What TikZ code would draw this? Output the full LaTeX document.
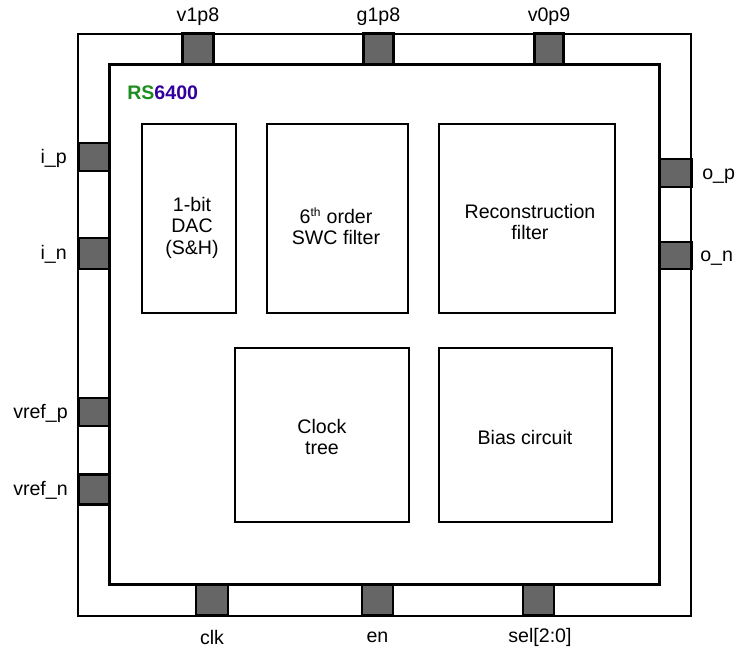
\documentclass[tikz,border=0pt]{standalone}
\usepackage{fontspec}
\setmainfont{Liberation Sans}
\begin{document}
\begin{tikzpicture}[x=0.75pt,y=-0.75pt,
  every node/.style={font=\fontsize{14.7pt}{16.1pt}\selectfont, inner sep=0pt},
  ln/.style={line width=2.2pt, line join=miter},
  blk/.style 2 args={draw, ln, fill=white, minimum width={#1*0.75pt}, minimum height={#2*0.75pt}, align=center},
  pad/.style 2 args={draw, ln, fill=padgray, minimum width={#1*0.75pt}, minimum height={#2*0.75pt}},
  lbl/.style={align=center}]
\definecolor{padgray}{HTML}{666666}
\definecolor{rsgreen}{HTML}{1E8C1E}
\definecolor{rsblue}{HTML}{3300A0}
\useasboundingbox (0,0) rectangle (744,648);
% die ring
\node[blk={613}{582}] (outer) at (384.5,325) {};
\node[blk={550}{520}] (inner) at (384.5,324.5) {};
% title
\node[anchor=west, font=\fontsize{14.7pt}{16.1pt}\selectfont\bfseries] (title) at (127,93) {\textcolor{rsgreen}{RS}\textcolor{rsblue}{6400}};
% blocks
\node[blk={94}{189}] (dac) at (189,218.5) {};
\node[blk={141}{189}] (swc) at (337.5,218.5) {};
\node[blk={176}{189}] (rec) at (527,218.5) {};
\node[blk={174}{174}] (clk) at (322,435) {};
\node[blk={173}{174}] (bias) at (525.5,435) {};
\node[lbl] (dact) at (192,227.5) {1-bit\\DAC\\(S\&H)};
\node[lbl] (swct) at (336,226.5) {6\textsuperscript{\fontsize{9pt}{9pt}\selectfont th} order\\SWC filter};
\node[lbl] (rect) at (530,222) {Reconstruction\\filter};
\node[lbl] (clkt) at (322,437) {Clock\\tree};
\node[lbl] (biast) at (525,437.5) {Bias circuit};
% top pads
\node[pad={31}{31}] (pv1) at (198,49.3) {};
\node[pad={30}{31}] (pg1) at (378.5,49.3) {};
\node[pad={29}{31}] (pv0) at (549,49.3) {};
\node[lbl] (lv1) at (198,17) {v1p8};
\node[lbl] (lg1) at (378.5,17) {g1p8};
\node[lbl] (lv0) at (549,17) {v0p9};
% left pads
\node[pad={31}{28}] (pip) at (93.8,157) {};
\node[pad={31}{31}] (pin) at (93.8,253.5) {};
\node[pad={31}{28}] (pvp) at (93.8,412) {};
\node[pad={31}{30}] (pvn) at (93.8,489.5) {};
\node[anchor=east] (lip) at (67,158) {i\_p};
\node[anchor=east] (lin) at (67,254) {i\_n};
\node[anchor=east] (lvp) at (68,413) {vref\_p};
\node[anchor=east] (lvn) at (68,490) {vref\_n};
% right pads
\node[pad={32}{28}] (pop) at (675.5,173) {};
\node[pad={32}{27}] (pon) at (675.5,255.5) {};
\node[anchor=west] (lop) at (702,176) {o\_p};
\node[anchor=west] (lon) at (700,258) {o\_n};
% bottom pads
\node[pad={32}{31}] (pclk) at (212,600) {};
\node[pad={31}{31}] (pen) at (377.5,600) {};
\node[pad={31}{31}] (psel) at (538.5,600) {};
\node[lbl] (lclk) at (212,637) {clk};
\node[lbl] (len) at (377.5,637) {en};
\node[lbl] (lsel) at (540,637) {sel[2:0]};
\end{tikzpicture}
\end{document}
